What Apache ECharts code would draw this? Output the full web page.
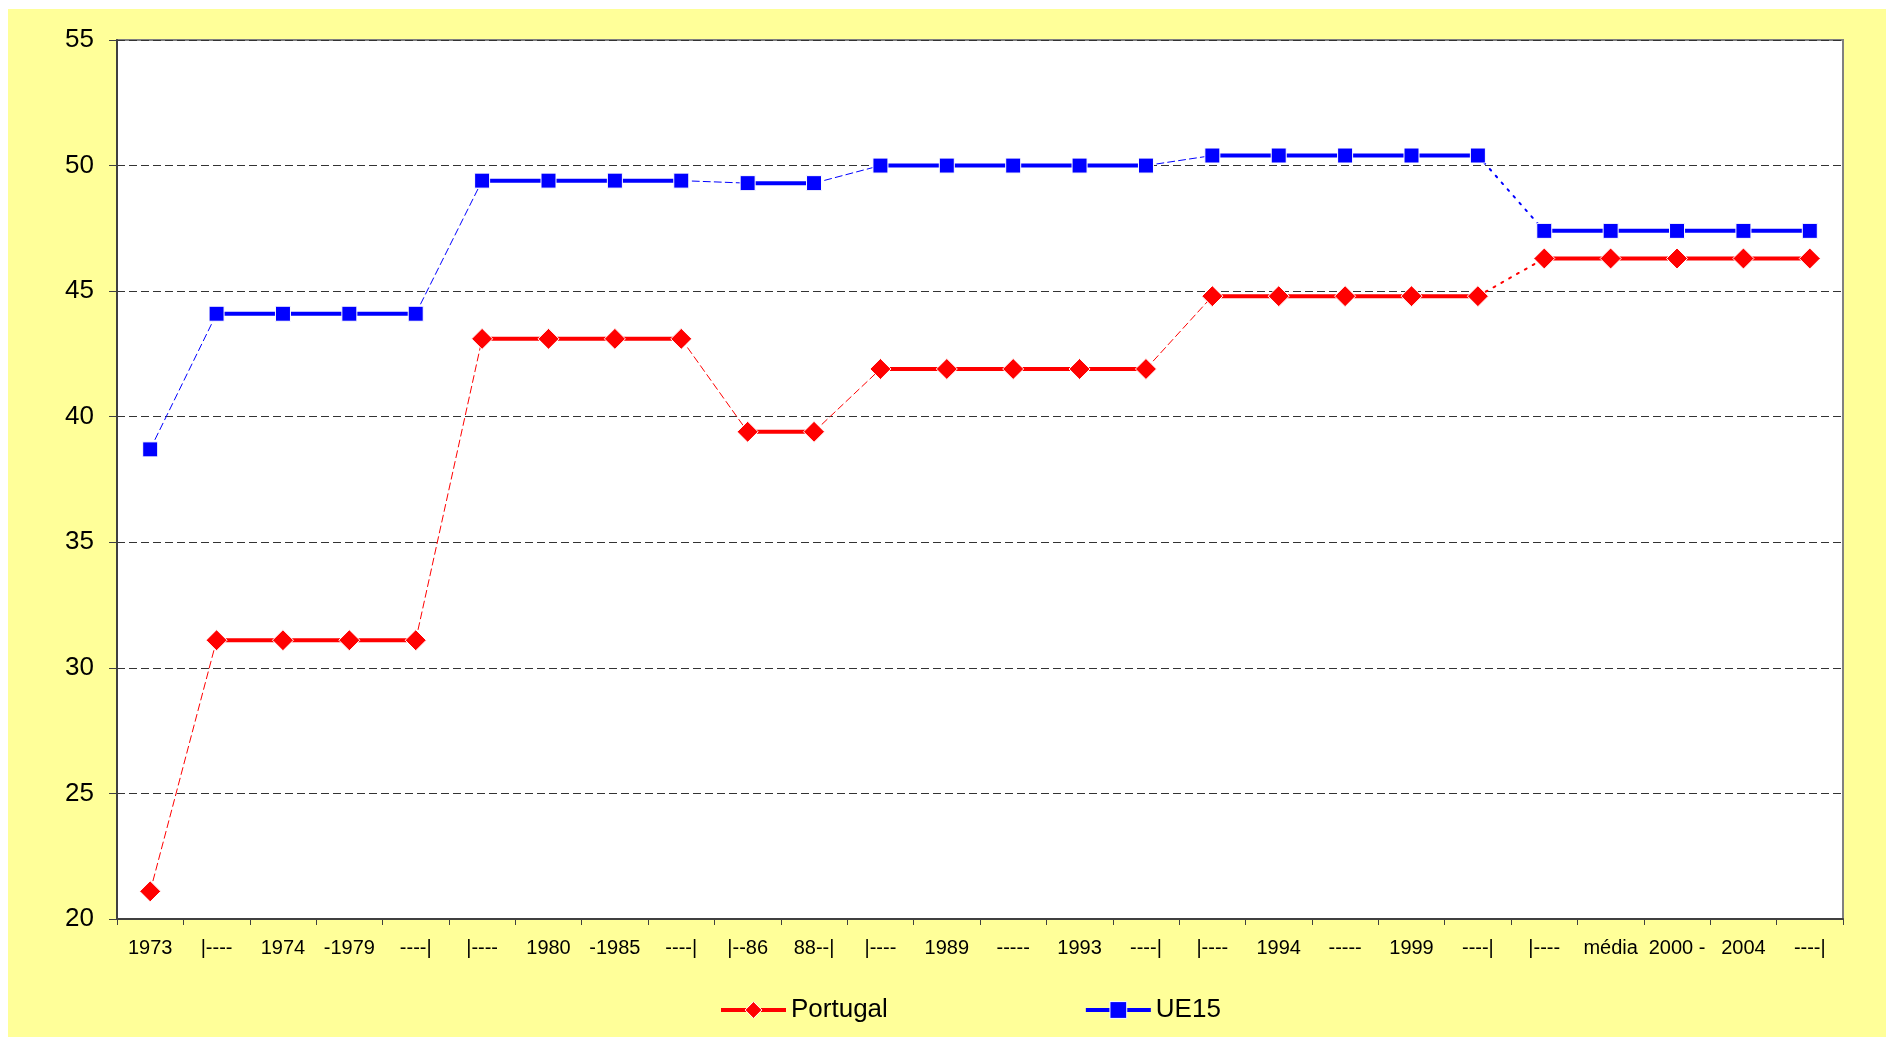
<!DOCTYPE html>
<html>
<head>
<meta charset="utf-8">
<script src="https://cdn.jsdelivr.net/npm/echarts@6/dist/echarts.min.js"></script>
<style>
    html, body { margin: 0; padding: 0; background: #ffffff; }
    #bg { position: absolute; left: 8px; top: 9px; width: 1878px; height: 1028px; background: #FFFF99; }
    #chart { position: absolute; left: 0; top: 0; width: 1886px; height: 1037px; }
</style>
</head>
<body>
<div id="bg"></div>
<div id="chart"></div>
<script>
const categories = ['1973', '|----', '1974', '-1979', '----|', '|----', '1980', '-1985', '----|', '|--86', '88--|',
    '|----', '1989', '-----', '1993', '----|', '|----', '1994', '-----', '1999', '----|',
    '|----', 'média', '2000 -', '2004', '----|'];
const portugal = [21.1, 31.1, 31.1, 31.1, 31.1, 43.1, 43.1, 43.1, 43.1, 39.4, 39.4,
    41.9, 41.9, 41.9, 41.9, 41.9, 44.8, 44.8, 44.8, 44.8, 44.8, 46.3, 46.3, 46.3, 46.3, 46.3];
const ue15 = [38.7, 44.1, 44.1, 44.1, 44.1, 49.4, 49.4, 49.4, 49.4, 49.3, 49.3,
    50.0, 50.0, 50.0, 50.0, 50.0, 50.4, 50.4, 50.4, 50.4, 50.4, 47.4, 47.4, 47.4, 47.4, 47.4];
const groupSizes = [1, 4, 4, 2, 5, 5, 5];
const linkTypes = ['dashed', 'dashed', 'dashed', 'dashed', 'dashed', 'dotted'];
const yTicks = [20, 25, 30, 35, 40, 45, 50, 55];

function segment(values, from, to) {
    return values.map((v, i) => (i >= from && i <= to ? v : '-'));
}

function buildSeries(name, values, color, symbol, symbolSize) {
    const out = [];
    let start = 0;
    groupSizes.forEach((size, g) => {
        const end = start + size - 1;
        out.push({
            name: name,
            type: 'line',
            data: segment(values, start, end),
            symbol: symbol,
            symbolSize: symbolSize,
            itemStyle: { color: color, borderColor: '#ffffff', borderWidth: 1 },
            lineStyle: { color: color, width: 4 },
            z: 4,
            animation: false
        });
        if (g < linkTypes.length) {
            const dotted = linkTypes[g] === 'dotted';
            out.push({
                name: name + ' link',
                type: 'line',
                data: segment(values, end, end + 1),
                symbol: 'none',
                lineStyle: { color: color, width: dotted ? 2 : 1, type: dotted ? [2, 7] : [7, 4], cap: 'round' },
                z: 3,
                animation: false
            });
        }
        start = end + 1;
    });
    return out;
}

const chart = echarts.init(document.getElementById('chart'));
chart.setOption({
    backgroundColor: 'transparent',
    grid: {
        left: 117, right: 43, top: 40, bottom: 118,
        show: true, backgroundColor: '#ffffff', borderColor: '#808080', borderWidth: 2
    },
    legend: {
        data: ['Portugal', 'UE15'],
        left: 719,
        top: 997,
        padding: 0,
        itemWidth: 65,
        itemHeight: 21,
        itemGap: 196,
        lineStyle: { width: 4, type: 'solid' },
        itemStyle: { borderColor: '#ffffff', borderWidth: 1 },
        textStyle: { fontFamily: 'Liberation Sans, Arial', fontSize: 26, color: '#000000' }
    },
    xAxis: {
        type: 'category',
        data: categories,
        boundaryGap: true,
        axisLine: { lineStyle: { color: '#404040', width: 2 } },
        axisTick: { show: true, length: 6, lineStyle: { color: '#404040', width: 1 } },
        axisLabel: {
            interval: 0, margin: 19, color: '#000000',
            fontFamily: 'Liberation Sans, Arial', fontSize: 20
        },
        splitLine: { show: false }
    },
    yAxis: {
        type: 'value',
        min: yTicks[0],
        max: yTicks[yTicks.length - 1],
        interval: 5,
        axisLine: { show: true, lineStyle: { color: '#404040', width: 2 } },
        axisTick: { show: true, length: 8, lineStyle: { color: '#404040', width: 1 } },
        axisLabel: { margin: 23, color: '#000000', fontFamily: 'Liberation Sans, Arial', fontSize: 26 },
        splitLine: { show: true, lineStyle: { color: '#333333', width: 1, type: [8, 4] } }
    },
    series: [].concat(
        buildSeries('Portugal', portugal, '#FF0000', 'diamond', 21),
        buildSeries('UE15', ue15, '#0000FF', 'rect', 15)
    )
});
</script>
</body>
</html>
